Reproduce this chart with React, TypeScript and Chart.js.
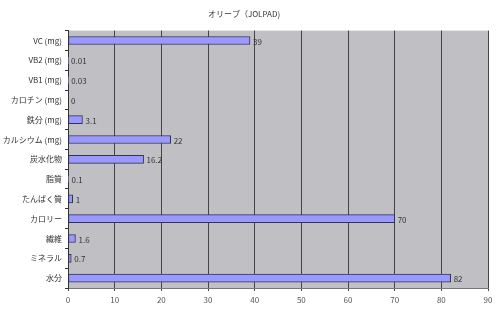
import React, { useEffect, useRef } from "react";
import { Chart, registerables } from "chart.js";

Chart.register(...registerables);

const TITLE = "オリーブ（JOLPAD)";
const categories = [
  "VC (mg)",
  "VB2 (mg)",
  "VB1 (mg)",
  "カロチン (mg)",
  "鉄分 (mg)",
  "カルシウム (mg)",
  "炭水化物",
  "脂質",
  "たんぱく質",
  "カロリー",
  "繊維",
  "ミネラル",
  "水分",
];
const values = [39, 0.01, 0.03, 0, 3.1, 22, 16.2, 0.1, 1, 70, 1.6, 0.7, 82];
const xTicks = [0, 10, 20, 30, 40, 50, 60, 70, 80, 90];

const FONT = "'Noto Sans CJK JP', 'Noto Sans', sans-serif";

export default function App() {
  const ref = useRef<HTMLCanvasElement | null>(null);

  useEffect(() => {
    if (!ref.current) return;
    const bgPlugin = {
      id: "plotBg",
      beforeDraw(chart: any) {
        const { ctx, chartArea: a } = chart;
        ctx.save();
        ctx.fillStyle = "#c0bfc4";
        ctx.fillRect(a.left, a.top, a.right - a.left, a.bottom - a.top);
        ctx.restore();
      },
    };
    const labelPlugin = {
      id: "valueLabels",
      afterDatasetsDraw(chart: any) {
        const { ctx } = chart;
        const meta = chart.getDatasetMeta(0);
        ctx.save();
        ctx.font = `8px ${FONT}`;
        ctx.fillStyle = "#333";
        ctx.textAlign = "left";
        ctx.textBaseline = "middle";
        meta.data.forEach((bar: any, i: number) => {
          ctx.fillText(String(values[i]), bar.x + 3, bar.y + 1);
        });
        ctx.restore();
      },
    };
    const chart = new Chart(ref.current, {
      type: "bar",
      data: {
        labels: categories,
        datasets: [
          {
            data: values,
            backgroundColor: "#9999ff",
            borderColor: "#333355",
            borderWidth: 1,
            borderSkipped: false,
            barThickness: 8,
          },
        ],
      },
      options: {
        indexAxis: "y",
        animation: false,
        responsive: false,
        devicePixelRatio: 1,
        layout: { padding: { left: 0, right: 12, top: 0, bottom: 0 } },
        plugins: {
          legend: { display: false },
          tooltip: { enabled: false },
          title: {
            display: true,
            text: TITLE,
            color: "#333",
            font: { size: 8, family: FONT, weight: "normal" },
            padding: { top: 9, bottom: 12 },
          },
        },
        scales: {
          x: {
            min: 0,
            max: 90,
            ticks: {
              stepSize: 10,
              color: "#555",
              font: { size: 8, family: FONT },
              padding: 4,
              callback: (v: any) => (xTicks.includes(Number(v)) ? String(v) : ""),
            },
            grid: { color: "#444", lineWidth: 1, tickLength: 3 },
            border: { color: "#777", width: 1 },
            afterFit: (s: any) => {
              s.height = 24;
            },
          },
          y: {
            offset: true,
            ticks: {
              color: "#333",
              font: { size: 8, family: FONT },
              padding: 3,
            },
            grid: {
              offset: true,
              drawOnChartArea: false,
              tickLength: 3,
              color: "#333",
            },
            border: { color: "#333", width: 1 },
            afterFit: (s: any) => {
              s.width = 68;
            },
          },
        },
      },
      plugins: [bgPlugin, labelPlugin],
    } as any);
    return () => chart.destroy();
  }, []);

  return (
    <div style={{ position: "absolute", left: 0, top: 0, width: 500, height: 312, background: "#fff" }}>
      <canvas ref={ref} width={500} height={312} style={{ display: "block" }} />
    </div>
  );
}
